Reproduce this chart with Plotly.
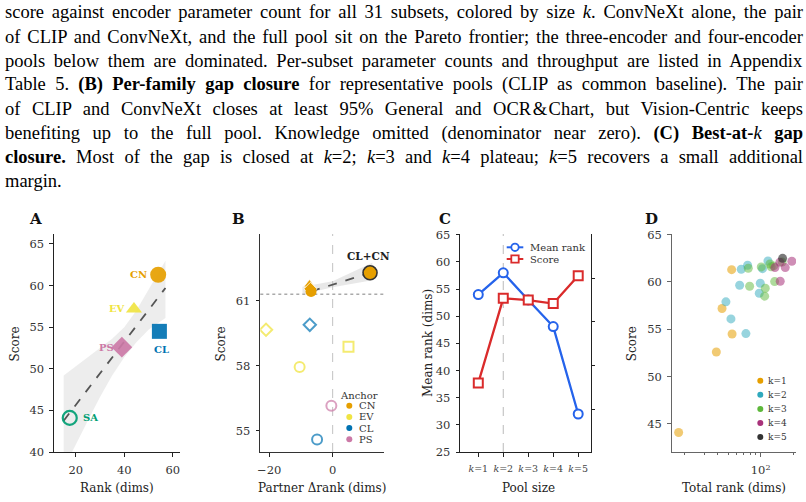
import numpy as np
import plotly.graph_objects as go

W, H = 806, 502
SERIF = "DejaVu Serif, serif"
TIMES = "Liberation Serif, Times New Roman, serif"


def px(x):
    return x / W


def py(y):
    return 1 - y / H


# ---------------- caption text ----------------
caption_lines = [
    "score against encoder parameter count for all 31 subsets, colored by size <i>k</i>. ConvNeXt alone, the pair",
    "of CLIP and ConvNeXt, and the full pool sit on the Pareto frontier; the three-encoder and four-encoder",
    "pools below them are dominated. Per-subset parameter counts and throughput are listed in Appendix",
    "Table 5. <b>(B) Per-family gap closure</b> for representative pools (CLIP as common baseline). The pair",
    "of CLIP and ConvNeXt closes at least 95% General and OCR&#8202;&amp;&#8202;Chart, but Vision-Centric keeps",
    "benefiting up to the full pool. Knowledge omitted (denominator near zero). <b>(C) Best-at-</b><i>k</i> <b>gap</b>",
    "<b>closure.</b> Most of the gap is closed at <i>k</i>=2; <i>k</i>=3 and <i>k</i>=4 plateau; <i>k</i>=5 recovers a small additional",
    "margin.",
]
caption_y = [12.5, 36.6, 60.7, 84.8, 108.9, 133.0, 157.1, 181.2]

# ---------------- Panel A data ----------------
fam_A = ["CN", "EV", "CL", "PS", "SA"]
rank_A = [54, 44, 54.5, 39, 17.5]
score_A = [61.3, 57.2, 54.5, 52.6, 44.1]
band_x_A = [15, 20, 25, 30, 35, 40, 45, 50, 57]
band_hi_A = [49.2, 50.3, 51.4, 52.5, 53.6, 55.0, 57.0, 59.5, 63.0]
band_lo_A = [38.0, 40.9, 43.8, 46.6, 49.2, 51.4, 53.2, 54.7, 56.1]
fit_range_A = [15, 57]

# ---------------- Panel B data ----------------
anchor_B = ["CN", "CN", "CN", "EV", "CL", "EV", "EV", "PS", "CL"]
partner_sym_B = ["triangle-up", "diamond", "circle", "diamond", "diamond", "square", "circle", "circle", "circle"]
drank_B = [-7.3, -7.0, -6.8, -21.0, -7.2, 5.0, -10.4, -0.4, -4.9]
score_B = [61.75, 61.55, 61.43, 59.66, 59.89, 58.88, 57.94, 56.15, 54.6]
pair_label_B = "CL+CN"
pair_drank_B = 11.8
pair_score_B = 62.29
baseline_B = 61.3
band_x_B = [-9.5, 0, 12.5]
band_hi_B = [61.65, 61.9, 62.75]
band_lo_B = [61.3, 61.62, 61.95]
legend_B = ["CN", "EV", "CL", "PS"]

# ---------------- Panel C data ----------------
pool_k = [1, 2, 3, 4, 5]
pool_labels = ["<i>k</i>=1", "<i>k</i>=2", "<i>k</i>=3", "<i>k</i>=4", "<i>k</i>=5"]
mean_rank_C = [54.0, 58.0, 53.0, 48.1, 32.0]
score_C = [61.30, 62.27, 62.25, 62.21, 62.53]

# ---------------- Panel D data ----------------
D_groups = ["k=1", "k=2", "k=3", "k=4", "k=5"]
D_rank = [
    [17.5, 39, 44, 54.5, 54],
    [47.8, 53.2, 73.1, 64.0, 66.2, 75.8, 99.2, 97.1, 104, 116.8],
    [76.9, 79.1, 101.3, 110.3, 108.9, 121.9, 131.8, 134.6, 125, 158],
    [135.5, 150.6, 151.6, 168.7, 194],
    [159.5],
]
D_score = [
    [44.1, 52.6, 57.2, 54.5, 61.3],
    [57.9, 56.1, 54.55, 59.66, 61.35, 61.77, 59.87, 58.81, 61.41, 62.22],
    [61.45, 59.55, 61.59, 59.34, 58.5, 61.9, 61.7, 60.04, 61.6, 62.1],
    [61.52, 62.08, 60.08, 61.52, 62.19],
    [62.5],
]

fam_colors = {"CN": "#E69F00", "EV": "#F0E442", "CL": "#0072B2", "PS": "#CC79A7", "SA": "#009E73"}
fam_rgba = {"CN": "rgba(230,159,0,1)", "EV": "rgba(240,228,66,0.75)", "CL": "rgba(0,114,178,0.7)",
            "PS": "rgba(204,121,167,0.7)"}
k_colors = ["#E69F00", "#2FA9BD", "#5DB83A", "#A8327A", "#333333"]
k_rgba = ["rgba(230,159,0,0.55)", "rgba(47,169,189,0.5)", "rgba(93,184,58,0.5)",
          "rgba(168,50,122,0.55)", "rgba(51,51,51,0.65)"]

fig = go.Figure()

# ===== Panel A =====
fig.add_trace(go.Scatter(x=band_x_A + band_x_A[::-1], y=band_hi_A + band_lo_A[::-1], fill="toself",
                         fillcolor="rgba(190,190,190,0.28)", line=dict(width=0), mode="lines",
                         xaxis="x", yaxis="y", hoverinfo="skip", showlegend=False))
slope, icpt = np.polyfit(rank_A, score_A, 1)
fx = np.array(fit_range_A, dtype=float)
fig.add_trace(go.Scatter(x=fx, y=slope * fx + icpt, mode="lines",
                         line=dict(color="#555555", width=1.8, dash="dash"),
                         xaxis="x", yaxis="y", showlegend=False))
sym_A = {"CN": "circle", "EV": "triangle-up", "CL": "square", "PS": "diamond", "SA": "circle-open"}
size_A = {"CN": 16, "EV": 14, "CL": 15, "PS": 16, "SA": 14}
for f, xv, yv in zip(fam_A, rank_A, score_A):
    fig.add_trace(go.Scatter(x=[xv], y=[yv], mode="markers", xaxis="x", yaxis="y", showlegend=False,
                             marker=dict(symbol=sym_A[f], size=size_A[f], color=fam_colors[f],
                                         opacity=0.92,
                                         line=dict(color=fam_colors[f], width=2.2 if f == "SA" else 0))))

# ===== Panel B =====
fig.add_trace(go.Scatter(x=band_x_B + band_x_B[::-1], y=band_hi_B + band_lo_B[::-1], fill="toself",
                         fillcolor="rgba(190,190,190,0.35)", line=dict(width=0), mode="lines",
                         xaxis="x2", yaxis="y2", hoverinfo="skip", showlegend=False))
fig.add_trace(go.Scatter(x=[drank_B[2], pair_drank_B], y=[score_B[2], pair_score_B], mode="lines",
                         line=dict(color="#555555", width=1.8, dash="dash"),
                         xaxis="x2", yaxis="y2", showlegend=False))
for a, s, xv, yv in zip(anchor_B, partner_sym_B, drank_B, score_B):
    filled = a == "CN"
    if filled:
        mk = dict(symbol=s, size=11 if s == "circle" else 10, color=fam_colors[a],
                  line=dict(color="white", width=0.8 if s != "circle" else 0))
    else:
        mk = dict(symbol=s + "-open", size=10 if s != "diamond" else 9.5, color=fam_rgba[a],
                  line=dict(color=fam_rgba[a], width=2))
    fig.add_trace(go.Scatter(x=[xv], y=[yv], mode="markers", marker=mk, xaxis="x2", yaxis="y2",
                             showlegend=False))
fig.add_trace(go.Scatter(x=[pair_drank_B], y=[pair_score_B], mode="markers", xaxis="x2", yaxis="y2",
                         showlegend=False,
                         marker=dict(symbol="circle", size=14, color=fam_colors["CN"],
                                     line=dict(color="#333333", width=1.6))))

# ===== Panel C =====
fig.add_trace(go.Scatter(x=pool_k, y=mean_rank_C, mode="lines+markers", xaxis="x3", yaxis="y3",
                         showlegend=False, line=dict(color="#2563EB", width=2.3),
                         marker=dict(symbol="circle", size=9, color="white",
                                     line=dict(color="#2563EB", width=2))))
fig.add_trace(go.Scatter(x=pool_k, y=score_C, mode="lines+markers", xaxis="x3", yaxis="y5",
                         showlegend=False, line=dict(color="#DA2B2B", width=2.3),
                         marker=dict(symbol="square", size=9, color="white",
                                     line=dict(color="#DA2B2B", width=2))))

# ===== Panel D =====
for i, g in enumerate(D_groups):
    fig.add_trace(go.Scatter(x=D_rank[i], y=D_score[i], mode="markers", xaxis="x4", yaxis="y4",
                             showlegend=False,
                             marker=dict(size=9, color=k_rgba[i], line=dict(width=0))))


# ---------------- axes ----------------
def ax(**kw):
    d = dict(showgrid=False, zeroline=False, showline=True, linecolor="#222222", linewidth=1.1,
             ticks="outside", ticklen=3.5, tickwidth=1, tickcolor="#222222",
             tickfont=dict(family=SERIF, size=11.5, color="#333333"), mirror=False, fixedrange=True)
    d.update(kw)
    return d


ydom = [py(452), py(234)]
layout_axes = dict(
    xaxis=ax(domain=[px(54), px(180)], anchor="y", range=[11, 63], tickvals=[20, 40, 60], ticklabelstandoff=4),
    yaxis=ax(domain=ydom, anchor="x", range=[40, 66.2], tickvals=[40, 45, 50, 55, 60, 65], ticklabelstandoff=3),
    xaxis2=ax(domain=[px(260.3), px(384)], anchor="y2", range=[-22.8, 16.2], tickvals=[-20, 0],
              ticklabelstandoff=4, linecolor="#333333"),
    yaxis2=ax(domain=ydom, anchor="x2", range=[54.02, 64.08], tickvals=[55, 58, 61], ticklabelstandoff=3,
              linecolor="#333333"),
    xaxis3=ax(domain=[px(460.3), px(590.7)], anchor="y3", range=[0.28, 5.5], tickvals=pool_k,
              ticktext=pool_labels, tickfont=dict(family=SERIF, size=9.5, color="#444444"),
              ticklabelstandoff=4),
    yaxis3=ax(domain=ydom, anchor="x3", range=[25, 65.15], tickvals=[25, 30, 35, 40, 45, 50, 55, 60, 65],
              ticklabelstandoff=3),
    yaxis5=ax(overlaying="y3", anchor="x3", side="right", range=[60.507, 63.008],
              tickvals=[61, 61.5, 62, 62.5], showticklabels=False),
    xaxis4=ax(domain=[px(671.7), px(796)], anchor="y4", type="log", range=[np.log10(15.1), np.log10(212)],
              tickvals=[100], ticktext=["10<sup>2</sup>"], linecolor="#666666", tickcolor="#666666",
              ticklabelstandoff=4,
              minor=dict(tickvals=[20, 30, 40, 50, 60, 70, 80, 90, 200], ticks="outside", ticklen=2,
                         tickcolor="#666666", showgrid=False)),
    yaxis4=ax(domain=ydom, anchor="x4", range=[42.04, 65.07], tickvals=[45, 50, 55, 60, 65],
              linecolor="#666666", tickcolor="#666666", ticklabelstandoff=3),
)

annotations = []
for txt, yy in zip(caption_lines, caption_y):
    annotations.append(dict(text=txt, x=px(3), y=py(yy), xref="paper", yref="paper", xanchor="left",
                            yanchor="middle", align="left", showarrow=False,
                            font=dict(family=TIMES, size=18.5, color="#000000")))


def lab(text, x, y, size=12, bold=False, color="#222222", xanchor="center", angle=0, family=SERIF):
    annotations.append(dict(text=f"<b>{text}</b>" if bold else text, x=px(x), y=py(y), xref="paper",
                            yref="paper", xanchor=xanchor, yanchor="middle", showarrow=False,
                            textangle=angle, font=dict(family=family, size=size, color=color)))


# panel letters
for L, x in zip("ABCD", [35, 238.7, 444.7, 651]):
    lab(L, x, 219, size=15, bold=True, color="#111111")

# axis titles
lab("Score", 14.5, 344, angle=-90)
lab("Rank (dims)", 116.5, 487.5)
lab("Score", 220.5, 344, angle=-90)
lab("Partner Δrank (dims)", 322, 487.5)
lab("Mean rank (dims)", 427.5, 343.5, angle=-90)
lab("Pool size", 528.3, 487.5)
lab("Score", 631.7, 343.5, angle=-90)
lab("Total rank (dims)", 733.5, 488.3)

# Panel A point labels
shift_A = {"CN": (-9, 0, "right"), "EV": (-7, 0, "right"), "CL": (2, -18.5, "center"),
           "PS": (-6, 0, "right"), "SA": (11, 0, "left")}
for f, xv, yv in zip(fam_A, rank_A, score_A):
    dx, dy, xa = shift_A[f]
    annotations.append(dict(text=f"<b>{f}</b>", x=xv, y=yv, xref="x", yref="y", xshift=dx, yshift=dy,
                            xanchor=xa, yanchor="middle", showarrow=False,
                            font=dict(family=SERIF, size=10, color=fam_colors[f])))

# Panel B pair label
annotations.append(dict(text=f"<b>{pair_label_B}</b>", x=pair_drank_B, y=pair_score_B, xref="x2", yref="y2",
                        xshift=-2, yshift=17, xanchor="center", yanchor="middle", showarrow=False,
                        font=dict(family=SERIF, size=10.5, color="#222222")))

shapes = []
# Panel B reference lines
shapes.append(dict(type="line", xref="x2", yref="y2 domain", x0=0, x1=0, y0=0, y1=1,
                   line=dict(color="#C8C8C8", width=1.1, dash="dash"), layer="below"))
shapes.append(dict(type="line", xref="x2 domain", yref="y2", x0=0, x1=1, y0=baseline_B, y1=baseline_B,
                   line=dict(color="#AAAAAA", width=1.3, dash="dot"), layer="below"))
# Panel C reference line
shapes.append(dict(type="line", xref="x3", yref="y3 domain", x0=2, x1=2, y0=0, y1=1,
                   line=dict(color="#C0C0C0", width=1.1, dash="dash"), layer="below"))


def dot(cx, cy, r, color):
    shapes.append(dict(type="circle", xref="paper", yref="paper", x0=px(cx - r), x1=px(cx + r),
                       y0=py(cy + r), y1=py(cy - r), fillcolor=color, line=dict(width=0)))


# Panel B legend
lab("Anchor", 359.2, 395, size=10, color="#333333")
for i, f in enumerate(legend_B):
    yy = 405.7 + i * 11.2
    dot(349.3, yy, 3, fam_colors[f])
    lab(f, 356.5, yy, size=10, color="#333333", xanchor="left")

# Panel C legend
for i, (name, col, sym) in enumerate([("Mean rank", "#2563EB", "circle"), ("Score", "#DA2B2B", "square")]):
    yy = 247.3 + i * 11.7
    shapes.append(dict(type="line", xref="paper", yref="paper", x0=px(506.7), x1=px(523.3), y0=py(yy),
                       y1=py(yy), line=dict(color=col, width=2)))
    shapes.append(dict(type="circle" if sym == "circle" else "rect", xref="paper", yref="paper",
                       x0=px(511.3), x1=px(518.7), y0=py(yy + 3.7), y1=py(yy - 3.7), fillcolor="white",
                       line=dict(color=col, width=1.8)))
    lab(name, 527.5, yy, size=10, color="#333333", xanchor="left")

# Panel D legend
for i, g in enumerate(D_groups):
    yy = 380.7 + i * 14.1
    dot(760.3, yy, 3, k_colors[i])
    lab(g, 765.5, yy, size=9, color="#333333", xanchor="left")

fig.update_layout(
    width=W, height=H, autosize=False, margin=dict(l=0, r=0, t=0, b=0, pad=0),
    paper_bgcolor="white", plot_bgcolor="white", template="none", showlegend=False,
    annotations=annotations, shapes=shapes, **layout_axes,
)

justify_js = """
var gd = document.getElementById('{plot_id}');
var ts = gd.querySelectorAll('g.annotation text.annotation-text');
ts.forEach(function(t){
  var ff = (t.style.fontFamily || '') + (t.getAttribute('style') || '');
  if (ff.indexOf('Liberation') < 0) return;
  var s = t.textContent;
  if (s.length < 30) return;
  var n = (s.match(/ /g) || []).length;
  if (!n) return;
  var w = t.getBBox().width;
  var extra = (798 - w) / n;
  t.style.wordSpacing = extra + 'px';
});
"""

fig.write_html("out.html", config={"displayModeBar": False, "staticPlot": True}, post_script=justify_js)
